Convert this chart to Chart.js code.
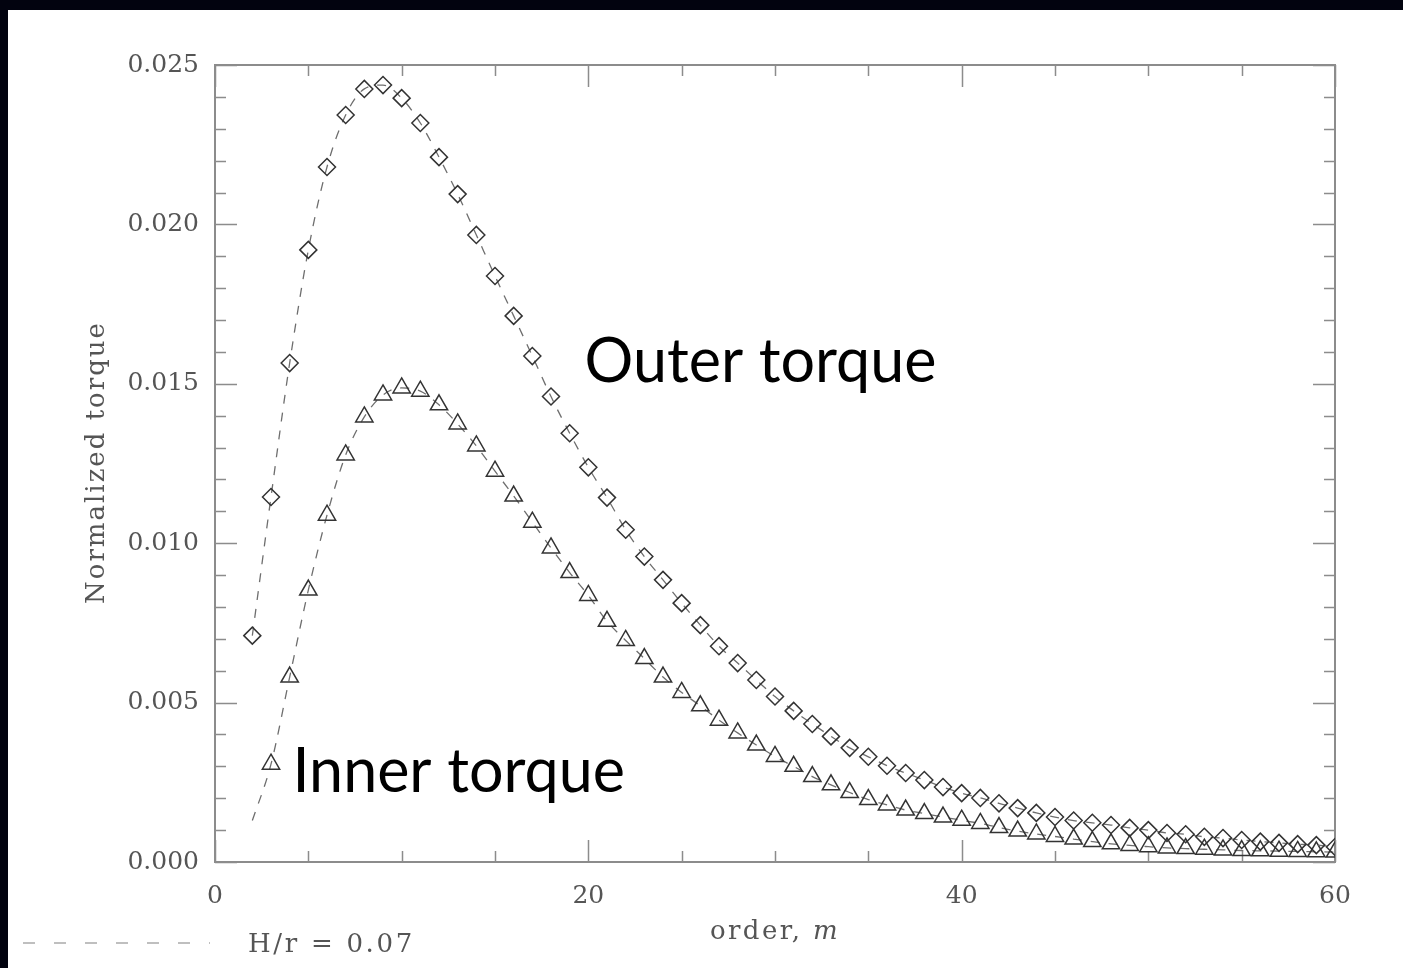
<!DOCTYPE html>
<html>
<head>
<meta charset="utf-8">
<script src="https://cdn.jsdelivr.net/npm/chart.js@4"></script>
<style>
  html, body { margin: 0; padding: 0; background: #02030f; }
  #wrap { position: absolute; left: 8px; top: 10px; width: 1395px; height: 958px; background: #fff; }
</style>
</head>
<body>
<div id="wrap"><canvas id="graph_torque" width="1395" height="958"></canvas></div>
<script>
// order m for each series
const orderOuter = [2,3,4,5,6,7,8,9,10,11,12,13,14,15,16,17,18,19,20,21,22,23,24,25,26,27,28,29,30,31,
  32,33,34,35,36,37,38,39,40,41,42,43,44,45,46,47,48,49,50,51,52,53,54,55,56,57,58,59,60];
const outerTorque = [0.0071,0.01145,0.01565,0.0192,0.0218,0.02343,0.02425,0.02437,0.02396,0.02318,
  0.02211,0.02095,0.01967,0.01838,0.01713,0.01587,0.01460,0.01345,0.01238,0.01143,0.01042,0.00958,
  0.00885,0.00812,0.00743,0.00677,0.00624,0.00571,0.00519,0.00474,0.00433,0.00394,0.00358,0.0033,
  0.00302,0.00279,0.00257,0.00235,0.00216,0.00201,0.00184,0.00169,0.00154,0.00141,0.0013,0.00123,
  0.00116,0.00107,0.0010,0.00091,0.00087,0.00079,0.00075,0.00069,0.00064,0.0006,0.00056,0.00053,0.00047];

const orderInner = [2,3,4,5,6,7,8,9,10,11,12,13,14,15,16,17,18,19,20,21,22,23,24,25,26,27,28,29,30,31,
  32,33,34,35,36,37,38,39,40,41,42,43,44,45,46,47,48,49,50,51,52,53,54,55,56,57,58,59,60];
const innerTorque = [0.0013,0.00307,0.0058,0.00853,0.01088,0.01277,0.01396,0.01465,0.01487,0.01477,
  0.01434,0.01374,0.01305,0.01226,0.01148,0.01066,0.00985,0.00908,0.00836,0.00755,0.00695,0.00638,
  0.0058,0.00532,0.0049,0.00445,0.00405,0.00367,0.00331,0.003,0.00268,0.00242,0.00218,0.00196,
  0.00179,0.00163,0.00152,0.00141,0.00131,0.00121,0.00108,0.00097,0.00088,0.0008,0.00072,0.00064,
  0.00057,0.00052,0.00048,0.00044,0.00042,0.0004,0.00038,0.00036,0.00035,0.00034,0.00033,0.00032,0.00031];

const xTickLabels = [0, 20, 40, 60];
const yTickLabels = ['0.000','0.005','0.010','0.015','0.020','0.025'];
const yTitle = 'Normalized torque';
const legendText = 'H/r = 0.07';
const curveNames = ['Outer torque', 'Inner torque'];
// where the curve names sit, in data units (m, torque at text baseline)
const namePos = [[19.8, 0.01506], [4.15, 0.0022]];

const axisFont = '"DejaVu Serif", "Liberation Serif", serif';
const toPoints = (xs, ys) => xs.map((m, i) => ({x: m, y: ys[i]}));

const frameTicks = {
  id: 'frameTicks',
  beforeInit(chart) { chart.ctx.letterSpacing = '1px'; },
  beforeDatasetsDraw(chart) {
    const {ctx, chartArea: a, scales: {x, y}} = chart;
    ctx.save();
    ctx.strokeStyle = '#8c8c8c';
    ctx.lineWidth = 1.5;
    // y ticks, left and right
    for (let k = 0; k <= 25; k++) {
      const py = Math.round(y.getPixelForValue(k / 1000)) + 0.5;
      const len = k % 5 === 0 ? 22 : 11;
      ctx.beginPath();
      ctx.moveTo(a.left, py); ctx.lineTo(a.left + len, py);
      ctx.moveTo(a.right, py); ctx.lineTo(a.right - len, py);
      ctx.stroke();
    }
    // x ticks, bottom and top
    for (let m = 0; m <= 60; m += 5) {
      const px = Math.round(x.getPixelForValue(m)) + 0.5;
      const len = m % 20 === 0 ? 22 : 11;
      ctx.beginPath();
      ctx.moveTo(px, a.bottom); ctx.lineTo(px, a.bottom - len);
      ctx.moveTo(px, a.top); ctx.lineTo(px, a.top + len);
      ctx.stroke();
    }
    ctx.lineWidth = 2;
    ctx.strokeRect(a.left, a.top, a.right - a.left, a.bottom - a.top);
    ctx.restore();
  },
  afterDraw(chart) {
    const {ctx, chartArea: a, scales: {x, y}} = chart;
    ctx.save();
    ctx.fillStyle = '#555';
    ctx.textBaseline = 'alphabetic';
    ctx.letterSpacing = '2.4px';
    // x title with italic m
    const t1 = 'order, ';
    ctx.font = 'italic 26px ' + axisFont;
    const w2 = ctx.measureText('m').width;
    ctx.font = '26px ' + axisFont;
    const w1 = ctx.measureText(t1).width;
    const tx = (a.left + a.right) / 2 - (w1 + w2) / 2;
    ctx.fillText(t1, tx, 929);
    ctx.font = 'italic 26px ' + axisFont;
    ctx.fillText('m', tx + w1, 929);
    // y title, rotated
    ctx.save();
    ctx.letterSpacing = '2px';
    ctx.font = '26px ' + axisFont;
    ctx.translate(96, (a.top + a.bottom) / 2 - 1);
    ctx.rotate(-Math.PI / 2);
    ctx.textAlign = 'center';
    ctx.fillText(yTitle, 0, 0);
    ctx.restore();
    // legend line and text
    ctx.strokeStyle = '#aaa';
    ctx.lineWidth = 1.5;
    ctx.setLineDash([12, 19]);
    ctx.beginPath();
    ctx.moveTo(15, 933); ctx.lineTo(202, 933);
    ctx.stroke();
    ctx.setLineDash([]);
    ctx.letterSpacing = '2.7px';
    ctx.font = '26px ' + axisFont;
    ctx.fillText(legendText, 240, 942);
    // curve names
    ctx.letterSpacing = '0px';
    ctx.fillStyle = '#000';
    ctx.font = '61px Lato, "Open Sans", sans-serif';
    curveNames.forEach((name, i) => {
      ctx.fillText(name, x.getPixelForValue(namePos[i][0]), y.getPixelForValue(namePos[i][1]));
    });
    ctx.restore();
  }
};

const torqueChart = new Chart(
  'graph_torque',
  {
    type: 'scatter',
    data: {
      datasets: [
        {
          label: curveNames[0],
          data: toPoints(orderOuter, outerTorque),
          showLine: true,
          borderColor: '#6e6e6e',
          borderWidth: 1.3,
          borderDash: [9, 9],
          cubicInterpolationMode: 'monotone',
          pointStyle: 'rectRot',
          pointRadius: 8.5,
          pointBorderColor: '#333',
          pointBorderWidth: 1.5,
          pointBackgroundColor: 'rgba(255,255,255,0)'
        },
        {
          label: curveNames[1],
          data: toPoints(orderInner, innerTorque),
          showLine: true,
          borderColor: '#6e6e6e',
          borderWidth: 1.3,
          borderDash: [9, 9],
          cubicInterpolationMode: 'monotone',
          pointStyle: 'triangle',
          pointRadius: ctx => ctx.dataIndex === 0 ? 0 : 10,
          pointBorderColor: '#333',
          pointBorderWidth: 1.5,
          pointBackgroundColor: 'rgba(255,255,255,0)'
        }
      ]
    },
    options: {
      responsive: false,
      animation: false,
      devicePixelRatio: 1,
      layout: { padding: { top: 55, right: 68, left: 0, bottom: 0 } },
      plugins: { legend: { display: false }, tooltip: { enabled: false } },
      scales: {
        x: {
          type: 'linear',
          position: 'bottom',
          min: 0,
          max: 60,
          grid: { display: false },
          border: { display: false },
          afterBuildTicks: s => { s.ticks = xTickLabels.map(v => ({value: v})); },
          ticks: { color: '#555', font: { family: axisFont, size: 25 }, padding: 11, maxRotation: 0 },
          afterFit: s => { s.height = 106; }
        },
        y: {
          type: 'linear',
          min: 0,
          max: 0.025,
          grid: { display: false },
          border: { display: false },
          afterBuildTicks: s => { s.ticks = yTickLabels.map(v => ({value: parseFloat(v)})); },
          ticks: {
            color: '#555',
            font: { family: axisFont, size: 25 },
            padding: 8,
            callback: (v) => v.toFixed(3)
          },
          afterFit: s => { s.width = 207; }
        }
      }
    },
    plugins: [frameTicks]
  }
);
</script>
</body>
</html>
